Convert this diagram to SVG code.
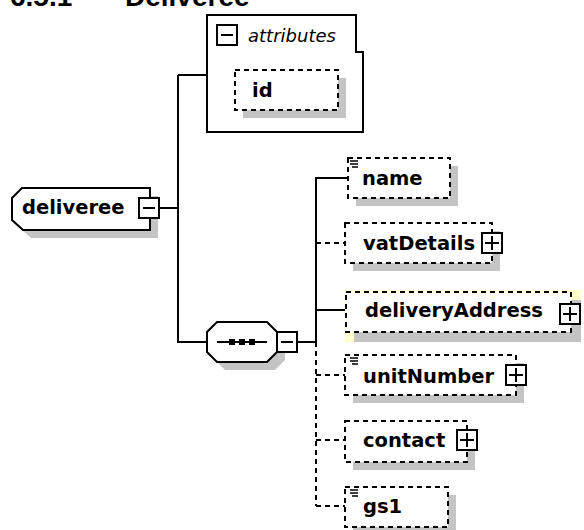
<svg xmlns="http://www.w3.org/2000/svg" width="584" height="530" viewBox="0 0 584 530">
<style>
.ln{stroke:#000;stroke-width:2;fill:none}
.dl{stroke:#000;stroke-width:2;fill:none;stroke-dasharray:5 4}
.bx{stroke:#000;stroke-width:2;fill:#fff}
.db{stroke:#000;stroke-width:2;fill:#fff;stroke-dasharray:5 4}
.sh{fill:#c4c4c4}
.t{font-family:"DejaVu Sans",sans-serif;font-weight:bold;font-size:19.5px;fill:#000}
.ic{stroke:#000;stroke-width:1.3}
</style>
<rect width="584" height="530" fill="#fff"/>
<text x="10" y="5.5" font-family="Liberation Sans,sans-serif" font-weight="bold" font-size="28">6.5.1</text>
<text x="125" y="5.5" font-family="Liberation Sans,sans-serif" font-weight="bold" font-size="28">Deliveree</text>

<g id="connectors">
<path class="ln" d="M160,208 H178 M178,75 V342 H207 M178,75 H207"/>
<path class="ln" d="M297,342 H316 V178 H347 M316,310 H346"/>
<path class="dl" d="M316,342 V506 M316,243 H345 M316,375 H345 M316,440 H345 M316,506 H345"/>
</g>

<g id="attributes">
<path class="bx" d="M207,15 H356 V52 H363 V132 H207 Z"/>
<rect class="bx" x="217" y="25" width="20" height="20"/>
<path class="ln" d="M221,35 H233"/>
<text x="248" y="42" font-family="DejaVu Sans,sans-serif" font-style="italic" font-size="18">attributes</text>
</g>
<g id="id">
<rect class="sh" x="243" y="78" width="103" height="40"/>
<rect class="db" x="235" y="70" width="103" height="40"/>
<text class="t" x="252" y="97">id</text>
</g>

<g id="deliveree">
<path class="sh" d="M30,196 H158 V238 H31 L20,228 V206 Z"/>
<path class="bx" d="M22,188 H150 V230 H23 L12,220 V198 Z"/>
<rect class="bx" x="139" y="198" width="20" height="20"/>
<path class="ln" d="M143,208 H155"/>
<text class="t" x="22" y="214">deliveree</text>
</g>

<g id="sequence">
<path class="sh" d="M225,330 H275 L285,340 V360 L275,370 H225 L215,360 V340 Z"/>
<path class="bx" d="M217,322 H267 L277,332 V352 L267,362 H217 L207,352 V332 Z"/>
<path class="ln" d="M217,342 H267"/>
<rect x="229" y="339" width="6" height="6"/>
<rect x="239" y="339" width="6" height="6"/>
<rect x="249" y="339" width="6" height="6"/>
<rect class="bx" x="277" y="332" width="20" height="20"/>
<path class="ln" d="M281,342 H293"/>
</g>

<g id="name">
<rect class="sh" x="356" y="166" width="102" height="40"/>
<rect class="db" x="348" y="158" width="102" height="40"/>
<path class="ic" d="M350,161 H358 M350,164 H358 M352,167 H358"/>
<text class="t" x="362" y="185">name</text>
</g>

<g id="vatDetails">
<rect class="sh" x="353" y="231" width="147" height="40"/>
<rect class="db" x="345" y="223" width="147" height="40"/>
<rect class="bx" x="482" y="233" width="20" height="20"/>
<path class="ln" d="M485,243 H499 M492,236 V250"/>
<text class="t" x="363" y="250">vatDetails</text>
</g>

<g id="deliveryAddress">
<rect x="345" y="290" width="236" height="52" fill="#ffffcc"/>
<rect class="sh" x="354" y="300" width="227" height="42"/>
<rect class="db" x="346" y="292" width="225" height="40"/>
<rect class="bx" x="560" y="304" width="20" height="20"/>
<path class="ln" d="M563,314 H577 M570,307 V321"/>
<text class="t" x="365" y="317">deliveryAddress</text>
</g>

<g id="unitNumber">
<rect class="sh" x="353" y="363" width="171" height="40"/>
<rect class="db" x="345" y="355" width="171" height="40"/>
<path class="ic" d="M350,358 H358 M350,361 H358 M352,364 H358"/>
<rect class="bx" x="506" y="365" width="20" height="20"/>
<path class="ln" d="M509,375 H523 M516,368 V382"/>
<text class="t" x="363" y="383">unitNumber</text>
</g>

<g id="contact">
<rect class="sh" x="353" y="429" width="122" height="41"/>
<rect class="db" x="345" y="421" width="122" height="41"/>
<rect class="bx" x="457" y="430" width="20" height="20"/>
<path class="ln" d="M460,440 H474 M467,433 V447"/>
<text class="t" x="363" y="447">contact</text>
</g>

<g id="gs1">
<rect class="sh" x="353" y="495" width="103" height="40"/>
<rect class="db" x="345" y="487" width="103" height="40"/>
<path class="ic" d="M350,490 H358 M350,493 H358 M352,496 H358"/>
<text class="t" x="363" y="513">gs1</text>
</g>
</svg>
